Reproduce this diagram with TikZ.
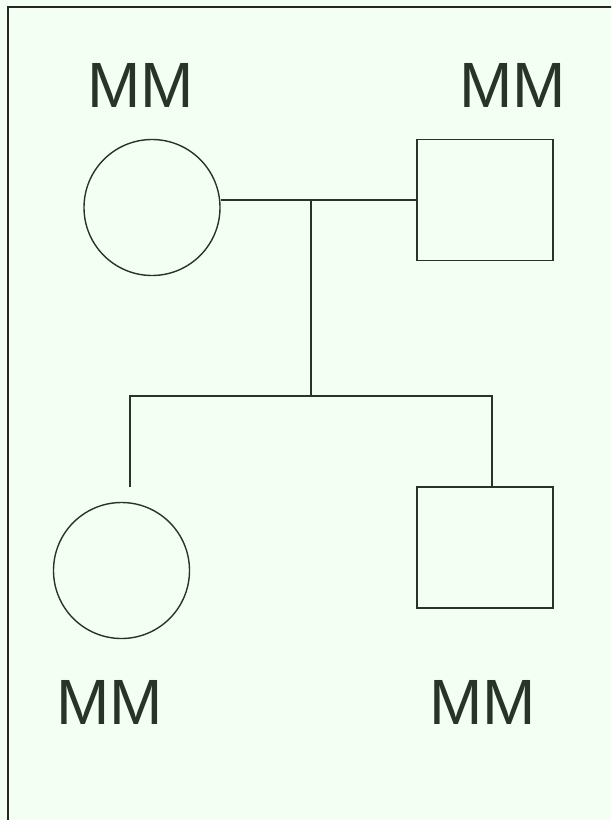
\documentclass[tikz,border=0pt]{standalone}
\usepackage{fontspec}
\setmainfont{Liberation Sans}
\definecolor{bgc}{HTML}{F3FFF3}
\definecolor{ink}{HTML}{283428}
\begin{document}
\begin{tikzpicture}[x=1pt,y=-1pt,
  female/.style={draw=ink,line width=1.4pt,circle,minimum size=136pt,inner sep=0pt},
  male/.style={draw=ink,line width=1.4pt,rectangle,minimum width=136pt,minimum height=121pt,inner sep=0pt},
  lbl/.style={text=ink,font=\fontsize{64}{70}\selectfont,inner sep=0pt,anchor=base},
  link/.style={draw=ink,line width=1.4pt}]
\useasboundingbox (0,0) rectangle (611,820);
\fill[bgc] (0,0) rectangle (611,820);
\begin{scope}
\clip (0,0) rectangle (611,820);
\draw[line width=2pt,black!85] (8,850) -- (8,7) -- (650,7);
\end{scope}
\node[female] (f1) at (152,207.5) {};
\node[male] (m1) at (485,200) {};
\node[female] (f2) at (121.5,570.5) {};
\node[male] (m2) at (485,547.5) {};
\node[lbl] (t1) at (140.5,107) {MM};
\node[lbl] (t2) at (512.5,107) {MM};
\node[lbl] (t3) at (110,724) {MM};
\node[lbl] (t4) at (482.5,724) {MM};
\coordinate (mid) at (311,200);
\coordinate (sib) at (311,396);
\coordinate (sl) at (130,396);
\coordinate (sr) at (492,396);
\coordinate (cl) at (130,487);
\draw[link] (mid -| f1.east) -- (m1.west);
\draw[link] (mid) -- (sib);
\draw[link] (cl) -- (sl) -- (sr) -- (sr |- m2.north);
\end{tikzpicture}
\end{document}
